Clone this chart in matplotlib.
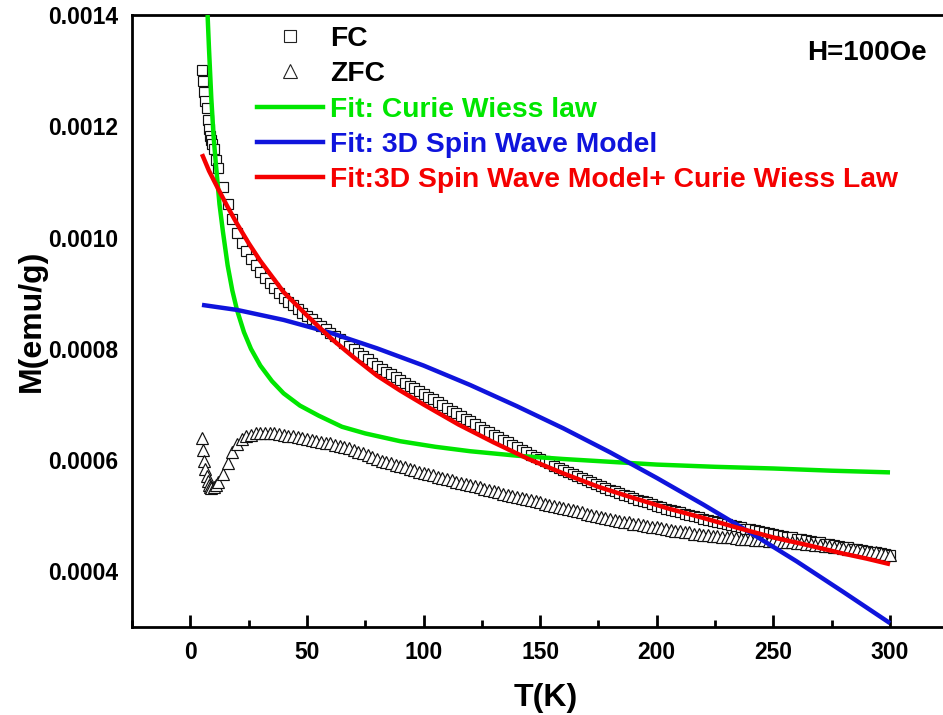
import numpy as np
import matplotlib
matplotlib.use("Agg")
import matplotlib.pyplot as plt
from matplotlib.lines import Line2D
from matplotlib.ticker import MultipleLocator

plt.rcParams['font.family'] = ['Liberation Sans', 'DejaVu Sans']

# ---------------- data ----------------
# FC (field cooled) magnetisation, emu/g
T_fc = [5, 5.5, 6, 6.5, 7, 7.5, 8, 8.5, 9, 9.5, 10, 11] + list(np.arange(12, 301, 2))
M_fc = [0.001302, 0.001282, 0.001262, 0.001246, 0.001232, 0.001212, 0.001195, 0.001182,
        0.001175, 0.001168, 0.001160, 0.001140,
        0.001125, 0.001090, 0.001060, 0.001033, 0.001008, 0.000990, 0.000975, 0.000962,
        0.000950, 0.000938, 0.000928, 0.000918, 0.000909, 0.000900, 0.000892, 0.000885,
        0.000878, 0.000871, 0.000865, 0.000859, 0.000853, 0.000847, 0.000841, 0.000835,
        0.000829, 0.000823, 0.000817, 0.000811, 0.000805, 0.000799, 0.000793, 0.000787,
        0.000781, 0.000775, 0.000769, 0.000764, 0.000759, 0.000754, 0.000749, 0.000744,
        0.000739, 0.000734, 0.000729, 0.000724, 0.000719, 0.000714, 0.000709, 0.000704,
        0.000699, 0.000694, 0.000689, 0.000684, 0.000679, 0.000674, 0.000670, 0.000665,
        0.000660, 0.000655, 0.000650, 0.000646, 0.000641, 0.000636, 0.000632, 0.000627,
        0.000623, 0.000619, 0.000614, 0.000610, 0.000606, 0.000602, 0.000598, 0.000594,
        0.000590, 0.000586, 0.000582, 0.000578, 0.000575, 0.000571, 0.000567, 0.000564,
        0.000560, 0.000557, 0.000554, 0.000550, 0.000547, 0.000544, 0.000541, 0.000538,
        0.000535, 0.000532, 0.000529, 0.000526, 0.000524, 0.000521, 0.000518, 0.000516,
        0.000513, 0.000511, 0.000508, 0.000506, 0.000504, 0.000501, 0.000499, 0.000497,
        0.000495, 0.000493, 0.000491, 0.000489, 0.000487, 0.000485, 0.000483, 0.000481,
        0.000479, 0.000477, 0.000476, 0.000474, 0.000472, 0.000470, 0.000469, 0.000467,
        0.000465, 0.000464, 0.000462, 0.000461, 0.000459, 0.000458, 0.000456, 0.000455,
        0.000453, 0.000452, 0.000450, 0.000449, 0.000447, 0.000446, 0.000444, 0.000443,
        0.000441, 0.000440, 0.000438, 0.000437, 0.000435, 0.000434, 0.000433, 0.000431,
        0.000430]

# ZFC (zero field cooled) magnetisation, emu/g
T_zfc = [5, 5.5, 6, 6.5, 7, 7.5, 8, 8.5, 9, 10, 11] + list(np.arange(12, 301, 2))
M_zfc = [0.000640, 0.000618, 0.000598, 0.000584, 0.000572, 0.000563, 0.000556, 0.000552,
         0.000550, 0.000552, 0.000556,
         # 12 .. 68 K
         0.000560, 0.000575, 0.000595, 0.000615, 0.000629, 0.000638, 0.000643, 0.000646,
         0.000648, 0.000649, 0.000649, 0.000649, 0.000648, 0.000647, 0.000645, 0.000644,
         0.000643, 0.000641, 0.000639, 0.000638, 0.000636, 0.000635, 0.000633, 0.000631,
         0.000630, 0.000628, 0.000626, 0.000624, 0.000621,
         # 70 .. 260 K
         0.000618, 0.000615, 0.000612, 0.000609, 0.000605, 0.000602, 0.000599, 0.000596,
         0.000594, 0.000591, 0.000589, 0.000587, 0.000584, 0.000582, 0.000579, 0.000577,
         0.000575, 0.000573, 0.000570, 0.000568, 0.000566, 0.000564, 0.000561, 0.000559,
         0.000557, 0.000555, 0.000553, 0.000551, 0.000548, 0.000546, 0.000544, 0.000542,
         0.000540, 0.000538, 0.000536, 0.000534, 0.000532, 0.000530, 0.000528, 0.000526,
         0.000524, 0.000522, 0.000520, 0.000518, 0.000516, 0.000514, 0.000512, 0.000510,
         0.000508, 0.000506, 0.000504, 0.000502, 0.000500, 0.000498, 0.000496, 0.000494,
         0.000492, 0.000491, 0.000489, 0.000488, 0.000486, 0.000485, 0.000483, 0.000482,
         0.000480, 0.000479, 0.000478, 0.000476, 0.000475, 0.000473, 0.000472, 0.000471,
         0.000470, 0.000468, 0.000467, 0.000466, 0.000465, 0.000464, 0.000463, 0.000462,
         0.000461, 0.000461, 0.000460, 0.000459, 0.000459, 0.000458, 0.000457, 0.000457,
         0.000456, 0.000455, 0.000454, 0.000454, 0.000453, 0.000452, 0.000452, 0.000451,
         # 262 .. 300 K
         0.000451, 0.000450, 0.000449, 0.000448, 0.000447, 0.000446, 0.000445, 0.000444,
         0.000443, 0.000442, 0.000441, 0.000440, 0.000438, 0.000437, 0.000436, 0.000435,
         0.000434, 0.000433, 0.000431, 0.000430]

# Fit: Curie Wiess law
T_cw = [7.4, 8, 9, 10, 11, 12.5, 14, 16, 18, 20, 23, 26, 30, 35, 40, 47, 55, 65, 75, 90,
        105, 120, 140, 160, 180, 200, 225, 250, 275, 300]
M_cw = [0.00140, 0.00134, 0.00125, 0.00118, 0.00113, 0.00106, 0.00101, 0.00095, 0.000905,
        0.000870, 0.000830, 0.000800, 0.000770, 0.000742, 0.000720, 0.000698, 0.000680,
        0.000660, 0.000648, 0.000634, 0.000624, 0.000616, 0.000608, 0.000602, 0.000597,
        0.000592, 0.000588, 0.000585, 0.000581, 0.000578]

# Fit: 3D spin wave model
T_sw = [5, 20, 40, 60, 80, 100, 120, 140, 160, 180, 200, 220, 240, 260, 280, 300]
M_sw = [0.000879, 0.000870, 0.000852, 0.000829, 0.000801, 0.000770, 0.000735, 0.000697,
        0.000657, 0.000614, 0.000568, 0.000520, 0.000470, 0.000418, 0.000363, 0.000307]

# Fit: 3D spin wave model + Curie Wiess law
T_sc = [5, 8, 12, 16, 20, 25, 30, 35, 40, 50, 60, 70, 80, 90, 100, 115, 130, 145, 160,
        175, 190, 205, 220, 235, 250, 265, 280, 290, 300]
M_sc = [0.00115, 0.00112, 0.001087, 0.001055, 0.001025, 0.000990, 0.000958, 0.000930,
        0.000902, 0.000860, 0.000820, 0.000785, 0.000752, 0.000725, 0.000700, 0.000664,
        0.000632, 0.000602, 0.000576, 0.000552, 0.000532, 0.000513, 0.000496, 0.000478,
        0.000461, 0.000447, 0.000432, 0.000423, 0.000413]

labels = ["FC", "ZFC", "Fit: Curie Wiess law", "Fit: 3D Spin Wave Model",
          "Fit:3D Spin Wave Model+ Curie Wiess Law"]
x_ticks = [0, 50, 100, 150, 200, 250, 300]
y_ticks = [0.0004, 0.0006, 0.0008, 0.0010, 0.0012, 0.0014]

# ---------------- plot ----------------
GREEN = '#00e600'
BLUE = '#0f14dc'
RED = '#f50000'

fig = plt.figure(figsize=(9.43, 7.15), dpi=100)
ax = fig.add_axes([0.140, 0.123, 0.878, 0.856])

ax.plot(T_fc, M_fc, linestyle='none', marker='s', markersize=7.5, markerfacecolor='white',
        markeredgecolor='#111111', markeredgewidth=0.85, zorder=2)
ax.plot(T_zfc, M_zfc, linestyle='none', marker='^', markersize=9, markerfacecolor='white',
        markeredgecolor='#111111', markeredgewidth=0.85, zorder=2)
ax.plot(T_cw, M_cw, color=GREEN, lw=3.2, zorder=3, solid_capstyle='butt')
ax.plot(T_sw, M_sw, color=BLUE, lw=3.2, zorder=3, solid_capstyle='butt')
ax.plot(T_sc, M_sc, color=RED, lw=3.2, zorder=4, solid_capstyle='butt')

ax.set_xlim(-25, 330)
ax.set_ylim(0.0003, 0.0014)
ax.set_xticks(x_ticks)
ax.set_yticks(y_ticks)
ax.set_yticklabels([f"{v:.4f}" for v in y_ticks])
ax.xaxis.set_minor_locator(MultipleLocator(25))

for s in ax.spines.values():
    s.set_linewidth(2)
ax.spines['right'].set_visible(False)
ax.tick_params(axis='x', which='major', direction='in', length=9, width=2,
               labelsize=16.5, pad=10, top=False)
ax.tick_params(axis='x', which='minor', direction='in', length=5, width=2, top=False)
ax.tick_params(axis='y', which='both', length=0, labelsize=16.5, pad=10)
for lab in ax.get_xticklabels() + ax.get_yticklabels():
    lab.set_fontweight('bold')

ax.set_xlabel("T(K)", fontsize=23, fontweight='bold', labelpad=14)
ax.set_ylabel("M(emu/g)", fontsize=23, fontweight='bold', labelpad=1)

fig.text(927 / 943, 1 - 53 / 715, "H=100Oe", ha='right', va='center',
         fontsize=20, fontweight='bold')

handles = [
    Line2D([], [], linestyle='none', marker='s', markersize=9, markerfacecolor='white',
           markeredgecolor='#222222', markeredgewidth=0.8),
    Line2D([], [], linestyle='none', marker='^', markersize=10, markerfacecolor='white',
           markeredgecolor='#222222', markeredgewidth=0.8),
    Line2D([], [], color=GREEN, lw=3.2),
    Line2D([], [], color=BLUE, lw=3.2),
    Line2D([], [], color=RED, lw=3.2),
]
leg = fig.legend(handles, labels, loc='upper left', bbox_to_anchor=(257 / 943, 1 - 26 / 715),
                 frameon=False, prop={'weight': 'bold', 'size': 20.3}, handlelength=2.35,
                 handletextpad=0.25, labelspacing=0.33, borderpad=0, borderaxespad=0)
for txt, c in zip(leg.get_texts(), ['black', 'black', GREEN, BLUE, RED]):
    txt.set_color(c)

fig.savefig("out.png", dpi=100)
